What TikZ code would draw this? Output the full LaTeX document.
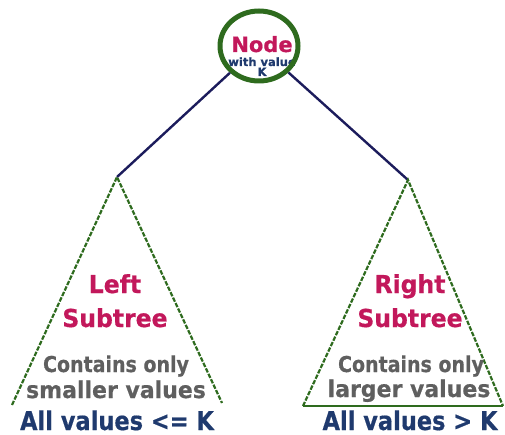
\documentclass[tikz,border=0pt]{standalone}
\usepackage{fontspec}
\usepackage{graphicx}
\setmainfont{DejaVu Sans}[BoldFeatures={FakeBold=0.6}]
\usetikzlibrary{shapes.geometric}
\definecolor{crim}{HTML}{C2185B}
\definecolor{navyt}{HTML}{1F3A6E}
\definecolor{grayt}{HTML}{5F5F5F}
\definecolor{trgreen}{HTML}{2E6B1E}
\definecolor{edgec}{HTML}{1C1C5C}
\newcommand{\fsz}[1]{\fontsize{#1}{#1}\selectfont}
\newcommand{\vs}[2]{\scalebox{1}[#1]{#2}}
\begin{document}
\begin{tikzpicture}[x=1pt,y=-1pt,
  titletxt/.style={text=crim,font=\bfseries\fsz{23.5},anchor=base,inner sep=0pt},
  graytxt/.style={text=grayt,font=\bfseries\fsz{19},anchor=base,inner sep=0pt},
  graytxtb/.style={text=grayt,font=\bfseries\fsz{22},anchor=base,inner sep=0pt},
  alltxt/.style={text=navyt,font=\bfseries\fsz{22.5},anchor=base,inner sep=0pt},
  smalltxt/.style={text=navyt,font=\bfseries\fsz{11.5},anchor=base,inner sep=0pt},
  sidedash/.style={draw=trgreen,line width=2.2pt,dash pattern=on 4.5pt off 1.5pt},
  basesolid/.style={draw=trgreen,line width=2.2pt},
  connector/.style={draw=edgec,line width=2.4pt},
  rootcirc/.style={ellipse,draw=trgreen,line width=5pt,minimum width=78pt,minimum height=70pt,inner sep=0pt}]
\useasboundingbox (0,0) rectangle (505,435);
% texts of root
\node[text=crim,font=\bfseries\fsz{21},anchor=base,inner sep=0pt] (nodetxt) at (262,52) {Node};
\node[smalltxt] (withtxt) at (262,66) {with value};
\node[smalltxt] (ktxt) at (262,76) {K};
\node[rootcirc] (root) at (259,46) {};
% apexes and corners
\coordinate (lapex) at (117,177);
\coordinate (lbl) at (12,405);
\coordinate (lbr) at (222,403);
\coordinate (rapex) at (408,180);
\coordinate (rbl) at (303,406);
\coordinate (rbr) at (503,406);
% connectors
\draw[connector] (root) -- (lapex);
\draw[connector] (root) -- (rapex);
% triangles
\draw[sidedash] (lbl) -- (lapex) -- (lbr);
\draw[sidedash] (rbl) -- (rapex) -- (rbr);
\draw[basesolid] (rbl) -- (rbr);
% left texts
\node[titletxt] (lt1) at (115,293) {\vs{1.05}{Left}};
\node[titletxt] (lt2) at (115,327) {\vs{1.05}{Subtree}};
\node[graytxt] (lg1) at (116,372) {\vs{1.15}{Contains only}};
\node[graytxtb] (lg2) at (116,398) {\vs{1.05}{smaller values}};
\node[alltxt] (la) at (117,430) {\vs{1.15}{All values <= K}};
% right texts
\node[titletxt] (rt1) at (410,293) {\vs{1.05}{Right}};
\node[titletxt] (rt2) at (410,327) {\vs{1.05}{Subtree}};
\node[graytxt] (rg1) at (411,372) {\vs{1.15}{Contains only}};
\node[graytxtb] (rg2) at (409,397) {\vs{1.05}{larger values}};
\node[alltxt] (ra) at (410,430) {\vs{1.15}{All values > K}};
\end{tikzpicture}
\end{document}
